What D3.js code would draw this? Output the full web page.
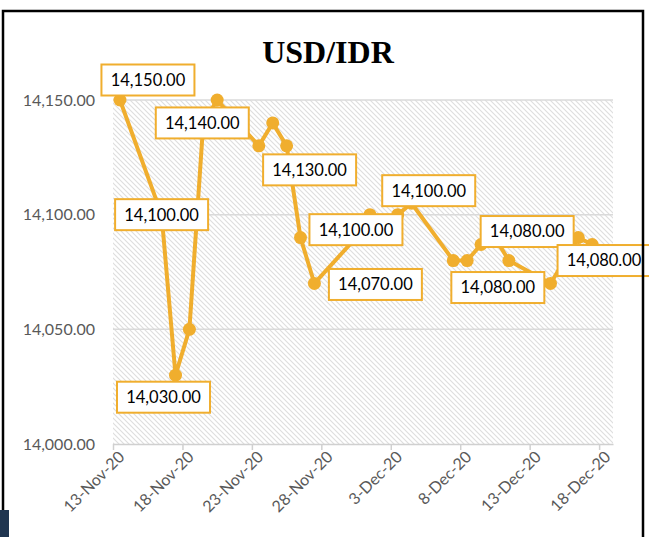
<!DOCTYPE html>
<html>
<head>
<meta charset="utf-8">
<script src="https://cdn.jsdelivr.net/npm/d3@7"></script>
<style>
  body { margin: 0; background: #fff; }
  svg { display: block; }
</style>
</head>
<body>
<div id="chart"></div>
<script>
const width = 649,
  height = 537,
  margin = ({ top: 100, right: 31, bottom: 93, left: 113 });

// trading days (weekends skipped)
const dates = ["2020-11-13", "2020-11-16", "2020-11-17", "2020-11-18", "2020-11-19", "2020-11-20",
  "2020-11-23", "2020-11-24", "2020-11-25", "2020-11-26", "2020-11-27",
  "2020-11-30", "2020-12-01", "2020-12-02", "2020-12-03", "2020-12-04",
  "2020-12-07", "2020-12-08", "2020-12-09", "2020-12-10", "2020-12-11",
  "2020-12-14", "2020-12-15", "2020-12-16", "2020-12-17", "2020-12-18"];
const rates = [14150, 14100, 14030, 14050, 14140, 14150,
  14130, 14140, 14130, 14090, 14070,
  14090, 14100, 14090, 14100, 14105,
  14080, 14080, 14087, 14090, 14080,
  14070, 14080, 14090, 14087, 14080];
const yTicks = [14000, 14050, 14100, 14150];
const xTicks = ["2020-11-13", "2020-11-18", "2020-11-23", "2020-11-28", "2020-12-03", "2020-12-08", "2020-12-13", "2020-12-18"];
// which points get a data label, and where the box was dragged to (px from the point)
const labelIdx = [0, 1, 2, 4, 8, 12, 10, 14, 17, 20, 25];
const labelDx = [28, 0, -12, -1, 23, -14, 61, 31, 60, -11, -2];
const labelDy = [-20, 0, 22, 0, 24, 15, 1, -24, -29, 27, 0];

const parse = d3.timeParse("%Y-%m-%d");
const data = dates.map((d, i) => ({ date: parse(d), value: rates[i] }));
const orange = "#F0AE2E";

const svg = d3.select("#chart")
  .append("svg")
  .attr("width", width)
  .attr("height", height);

// hatch fill of the plot area
const pat = svg.append("defs").append("pattern")
  .attr("id", "hatch")
  .attr("patternUnits", "userSpaceOnUse")
  .attr("width", 5)
  .attr("height", 5);
pat.append("rect").attr("width", 5).attr("height", 5).attr("fill", "#fff");
pat.append("path")
  .attr("d", "M-1,-1 L6,6 M-1,4 L1,6 M4,-1 L6,1")
  .attr("stroke", "#DEDEDE")
  .attr("stroke-width", 1.1);

const x = d3.scaleTime()
  .domain([parse("2020-11-13"), parse("2020-12-19")])
  .range([margin.left, width - margin.right - 5]);

const y = d3.scaleLinear()
  .domain([14000, 14150])
  .range([height - margin.bottom, margin.top]);

const half = 12 * 3600 * 1000; // points sit in the middle of their day
const px = d => x(new Date(+d.date + half));

svg.append("rect")
  .attr("x", x.range()[0])
  .attr("y", y(14150))
  .attr("width", x.range()[1] - x.range()[0])
  .attr("height", y(14000) - y(14150))
  .attr("fill", "url(#hatch)");

// gridlines
svg.append("g")
  .selectAll("line")
  .data(yTicks.slice(1))
  .join("line")
  .attr("x1", x.range()[0])
  .attr("x2", x.range()[1])
  .attr("y1", d => y(d))
  .attr("y2", d => y(d))
  .attr("stroke", "#DADADA")
  .attr("stroke-width", 1.5);

// x axis
const xAxis = svg.append("g")
  .attr("transform", `translate(0,${y(14000)})`)
  .call(d3.axisBottom(x)
    .tickValues(xTicks.map(parse))
    .tickSize(6)
    .tickSizeOuter(0)
    .tickFormat(d3.timeFormat("%-d-%b-%y")));
xAxis.select(".domain").attr("stroke", "#D0D0D0").attr("stroke-width", 1.5);
xAxis.selectAll(".tick line").attr("stroke", "#D0D0D0").attr("stroke-width", 1.5);
xAxis.selectAll(".tick text")
  .attr("font-family", "Lato, sans-serif")
  .attr("font-size", 16)
  .attr("fill", "#595959")
  .attr("text-anchor", "end")
  .attr("transform", "translate(8,10) rotate(-45)")
  .attr("x", 0)
  .attr("y", 0)
  .attr("dy", "0.35em");

// y axis labels
const fmt = d3.format(",.2f");
const yAxis = svg.append("g")
  .attr("transform", `translate(${margin.left},0)`)
  .call(d3.axisLeft(y).tickValues(yTicks).tickSize(0).tickPadding(18).tickFormat(fmt));
yAxis.select(".domain").remove();
yAxis.selectAll("text")
  .attr("font-family", "Lato, sans-serif")
  .attr("font-size", 16)
  .attr("fill", "#595959");

// line + markers
svg.append("path")
  .datum(data)
  .attr("fill", "none")
  .attr("stroke", orange)
  .attr("stroke-width", 4)
  .attr("stroke-linejoin", "round")
  .attr("d", d3.line().x(px).y(d => y(d.value)));

svg.append("g")
  .selectAll("circle")
  .data(data)
  .join("circle")
  .attr("cx", px)
  .attr("cy", d => y(d.value))
  .attr("r", 6.5)
  .attr("fill", orange);

// data labels
const lab = svg.append("g")
  .selectAll("g")
  .data(labelIdx.map((k, i) => ({ d: data[k], dx: labelDx[i], dy: labelDy[i] })))
  .join("g")
  .attr("transform", l => `translate(${px(l.d) + l.dx},${y(l.d.value) + l.dy})`);

lab.append("rect")
  .attr("x", -46.5)
  .attr("y", -15.5)
  .attr("width", 93)
  .attr("height", 31)
  .attr("fill", "#fff")
  .attr("stroke", orange)
  .attr("stroke-width", 2);

lab.append("text")
  .text(l => fmt(l.d.value))
  .attr("text-anchor", "middle")
  .attr("dy", "0.36em")
  .attr("font-family", "Lato, sans-serif")
  .attr("font-size", 16.5)
  .attr("fill", "#000");

// title
svg.append("text")
  .attr("x", 328)
  .attr("y", 63)
  .attr("text-anchor", "middle")
  .attr("font-family", "'Liberation Serif', 'Times New Roman', serif")
  .attr("font-weight", "bold")
  .attr("font-size", 32)
  .text("USD/IDR");

// chart frame
svg.append("rect")
  .attr("x", 3)
  .attr("y", 11)
  .attr("width", 640)
  .attr("height", 540)
  .attr("fill", "none")
  .attr("stroke", "#000")
  .attr("stroke-width", 2.5);

svg.append("rect")
  .attr("x", 0)
  .attr("y", 510)
  .attr("width", 9)
  .attr("height", 27)
  .attr("fill", "#1F3550");
</script>
</body>
</html>
